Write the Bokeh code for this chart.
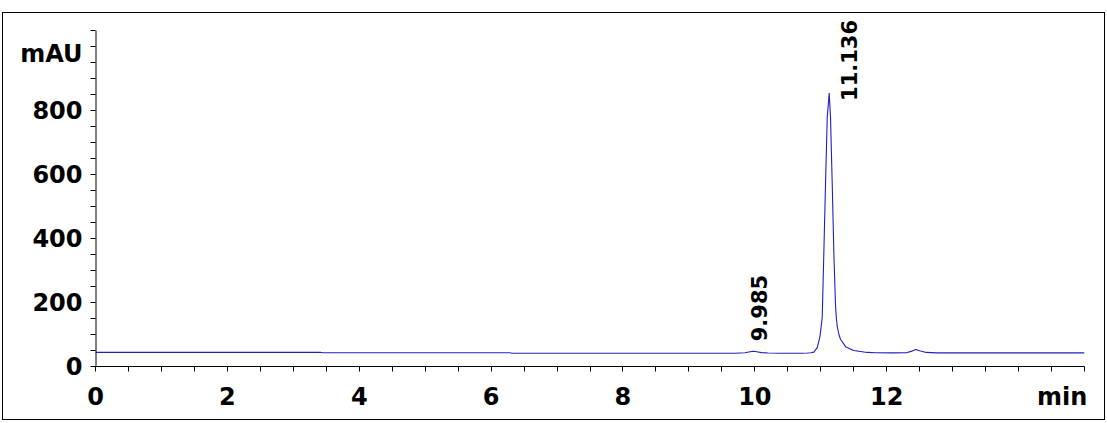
import math
from bokeh.plotting import figure
from bokeh.models import Range1d, FixedTicker, Label, ColumnDataSource
from bokeh.embed import file_html
from bokeh.resources import INLINE

# ---- data ----
time_min = [0.0, 3.42, 3.45, 6.28, 6.32, 9.70, 9.85, 9.93, 9.975, 10.03, 10.10,
            10.20, 10.40, 10.70, 10.795, 10.85, 10.895, 10.946, 10.986, 11.022,
            11.047, 11.072, 11.098, 11.128, 11.148, 11.174, 11.198, 11.224,
            11.237, 11.250, 11.275, 11.300, 11.376, 11.497, 11.705, 11.831,
            12.10, 12.30, 12.38, 12.44, 12.50, 12.60, 12.75, 15.0]
signal_mau = [44, 44, 43, 43, 41.5, 41.5, 43, 46, 47.5, 46, 43.5,
              42, 41.5, 41.5, 42, 43, 45, 59, 91, 153,
              359, 569, 778, 855, 778, 569, 359, 190,
              150, 125, 100, 85, 62, 50, 44, 43,
              42.5, 43, 48, 53, 49, 44, 42.5, 42.5]

peak_times = [9.985, 11.136]
peak_heights = [47.5, 855]
peak_labels = ["9.985", "11.136"]

x_tick_labels = [0, 2, 4, 6, 8, 10, 12]
y_tick_labels = [0, 200, 400, 600, 800]
x_unit = "min"
y_unit = "mAU"
x_unit_pos = 14.66   # centre of the "min" caption
y_unit_pos = 978.0   # centre of the "mAU" caption
x_end = 15.0
y_axis_end = 1050.0

FONT = "DejaVu Sans"

p = figure(frame_width=989, frame_height=348,
           x_range=Range1d(0, x_end), y_range=Range1d(0, 1087.8),
           output_backend="svg", toolbar_location=None,
           min_border_left=92, min_border_right=20,
           min_border_top=5, min_border_bottom=53)
p.styles = {"outline": "1px solid black", "margin-left": "3px", "margin-top": "13px"}
p.outline_line_color = None
p.xgrid.visible = False
p.ygrid.visible = False
p.background_fill_color = "white"
p.border_fill_color = "white"

src = ColumnDataSource(dict(t=time_min, v=signal_mau))
p.line("t", "v", source=src, line_color="#2020c0", line_width=1.1)

# y axis line drawn by hand so it stops at the top tick
p.segment(x0=[0], y0=[0], x1=[0], y1=[y_axis_end], line_color="black", line_width=2)

x_minor = [i * 0.5 for i in range(0, 31)]
y_minor = [i * 50 for i in range(0, 22)]
p.xaxis.ticker = FixedTicker(ticks=x_tick_labels + [x_unit_pos], minor_ticks=x_minor)
p.yaxis.ticker = FixedTicker(ticks=y_tick_labels + [y_unit_pos], minor_ticks=y_minor)
p.xaxis.major_label_overrides = {x_unit_pos: x_unit}
p.yaxis.major_label_overrides = {y_unit_pos: y_unit}

for ax in (p.xaxis[0], p.yaxis[0]):
    ax.axis_line_color = "black"
    ax.axis_line_width = 1
    ax.major_tick_in = 0
    ax.major_tick_out = 0
    ax.minor_tick_in = 0
    ax.minor_tick_out = 5
    ax.minor_tick_line_color = "black"
    ax.major_label_text_font = FONT
    ax.major_label_text_font_size = "24px"
    ax.major_label_text_font_style = "bold"
    ax.major_label_text_color = "black"

p.yaxis.axis_line_color = None
p.xaxis.major_label_standoff = 11
p.yaxis.major_label_standoff = 8

# peak labels
offsets = [(5, 10), (19, -8)]
for t, h, lab, (dx, dy) in zip(peak_times, peak_heights, peak_labels, offsets):
    p.add_layout(Label(x=t, y=h, x_offset=dx, y_offset=dy, text=lab,
                       angle=math.pi / 2, text_align="left", text_baseline="middle",
                       text_font=FONT, text_font_size="21px", text_font_style="bold",
                       text_color="black"))

open("out.html", "w").write(file_html(p, INLINE))
